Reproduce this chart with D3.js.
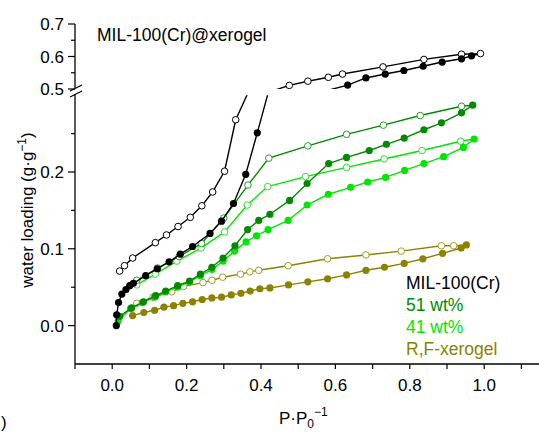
<!DOCTYPE html>
<html>
<head>
<meta charset="utf-8">
<script src="https://cdn.jsdelivr.net/npm/d3@7"></script>
<style>
  body { margin: 0; background: #fff; }
  svg { font-family: "Liberation Sans", Arial, sans-serif; }
</style>
</head>
<body>
<div id="chart"></div>
<script>
// isotherm data, [P/P0, loading g/g]
const milAds = [[0.011,0.000],[0.012,0.014],[0.017,0.030],[0.026,0.041],[0.037,0.047],[0.047,0.052],[0.057,0.055],[0.090,0.065],[0.121,0.074],[0.153,0.083],[0.183,0.093],[0.216,0.103],[0.263,0.120],[0.294,0.136],[0.326,0.159],[0.359,0.197],[0.390,0.251],[0.44,0.34],[0.56,0.49],[0.633,0.512],[0.682,0.534],[0.734,0.546],[0.784,0.557],[0.836,0.570],[0.887,0.583],[0.939,0.593],[0.966,0.602]];
const milDes = [[0.990,0.609],[0.939,0.607],[0.838,0.591],[0.728,0.568],[0.619,0.546],[0.581,0.536],[0.526,0.524],[0.476,0.511],[0.42,0.49],[0.40,0.34],[0.332,0.268],[0.302,0.201],[0.270,0.174],[0.241,0.156],[0.210,0.141],[0.177,0.129],[0.146,0.118],[0.116,0.108],[0.055,0.088],[0.033,0.078],[0.020,0.071]];
const w51Ads = [[0.020,0.012],[0.052,0.023],[0.084,0.031],[0.117,0.039],[0.144,0.045],[0.176,0.052],[0.208,0.058],[0.237,0.067],[0.268,0.076],[0.298,0.088],[0.330,0.104],[0.364,0.125],[0.394,0.137],[0.424,0.145],[0.477,0.163],[0.524,0.185],[0.582,0.211],[0.630,0.219],[0.691,0.228],[0.737,0.236],[0.785,0.244],[0.838,0.255],[0.885,0.264],[0.939,0.277],[0.969,0.287]];
const w51Des = [[0.939,0.2856],[0.828,0.2735],[0.729,0.261],[0.630,0.249],[0.526,0.234],[0.421,0.218],[0.365,0.183],[0.300,0.140],[0.240,0.107],[0.180,0.090],[0.122,0.075],[0.066,0.059]];
const w41Ads = [[0.016,0.006],[0.049,0.022],[0.081,0.030],[0.114,0.037],[0.143,0.044],[0.176,0.050],[0.208,0.057],[0.237,0.065],[0.268,0.073],[0.298,0.084],[0.329,0.097],[0.360,0.109],[0.388,0.117],[0.419,0.125],[0.473,0.137],[0.524,0.157],[0.581,0.171],[0.641,0.180],[0.687,0.187],[0.735,0.193],[0.786,0.202],[0.838,0.211],[0.891,0.220],[0.944,0.232],[0.973,0.243]];
const w41Des = [[0.937,0.240],[0.833,0.228],[0.731,0.217],[0.630,0.206],[0.520,0.194],[0.418,0.181],[0.363,0.157],[0.302,0.122],[0.239,0.101],[0.174,0.084],[0.116,0.067],[0.066,0.053]];
const rfAds = [[0.055,0.013],[0.085,0.017],[0.114,0.020],[0.139,0.024],[0.165,0.026],[0.190,0.029],[0.216,0.031],[0.242,0.034],[0.268,0.036],[0.294,0.037],[0.320,0.040],[0.346,0.042],[0.371,0.045],[0.397,0.048],[0.424,0.049],[0.474,0.053],[0.526,0.057],[0.579,0.061],[0.630,0.066],[0.682,0.072],[0.732,0.076],[0.785,0.081],[0.835,0.087],[0.888,0.094],[0.938,0.101],[0.952,0.105]];
const rfDes = [[0.918,0.104],[0.885,0.104],[0.777,0.097],[0.682,0.092],[0.579,0.087],[0.473,0.078],[0.394,0.072],[0.370,0.070],[0.345,0.067],[0.297,0.063],[0.268,0.059],[0.244,0.056],[0.192,0.051],[0.160,0.044],[0.110,0.037],[0.066,0.029]];

const xTicks = [0.0, 0.2, 0.4, 0.6, 0.8, 1.0];
const yLowTicks = [0.0, 0.1, 0.2];
const yHighTicks = [0.5, 0.6, 0.7];
const legendNames = ["MIL-100(Cr)", "51 wt%", "41 wt%", "R,F-xerogel"];
const legendColors = ["#000000", "#008a00", "#00e600", "#8c8200"];

const width = 539, height = 434;

const svg = d3.select("#chart").append("svg")
    .attr("width", width)
    .attr("height", height);

const x = d3.scaleLinear().domain([-0.1, 1.15]).range([75, 540]);
const yLo = d3.scaleLinear().domain([-0.05, 0.30]).range([364, 95.2]);
const yHi = d3.scaleLinear().domain([0.5, 0.7]).range([89, 24]);

// clip areas for the two panels of the broken axis
const defs = svg.append("defs");
defs.append("clipPath").attr("id", "clipLo").append("rect")
    .attr("x", 75).attr("y", yLo(0.30)).attr("width", 470).attr("height", yLo(-0.05) - yLo(0.30));
defs.append("clipPath").attr("id", "clipHi").append("rect")
    .attr("x", 75).attr("y", 0).attr("width", 470).attr("height", yHi(0.5));

const series = [
    { ads: rfAds, des: rfDes, color: "#8c8200", open: "#a39a2a" },
    { ads: w41Ads, des: w41Des, color: "#00e600", open: "#33dd33" },
    { ads: w51Ads, des: w51Des, color: "#008a00", open: "#2a9a2a" },
    { ads: milAds, des: milDes, color: "#000000", open: "#000000" }
];

const panels = [
    { y: yLo, clip: "url(#clipLo)", lo: -0.05, hi: 0.30 },
    { y: yHi, clip: "url(#clipHi)", lo: 0.5, hi: 0.7 }
];

panels.forEach(p => {
    const g = svg.append("g").attr("clip-path", p.clip);
    const line = d3.line().x(d => x(d[0])).y(d => p.y(d[1]));
    const inside = d => d[1] >= p.lo && d[1] <= p.hi;

    series.forEach(s => {
        // desorption branch starts from the top of the adsorption branch
        const desPath = [s.ads[s.ads.length - 1]].concat(s.des);
        g.append("path").attr("d", line(s.ads))
            .attr("fill", "none").attr("stroke", s.color).attr("stroke-width", 1.4);
        g.append("path").attr("d", line(desPath))
            .attr("fill", "none").attr("stroke", s.color).attr("stroke-width", 1.4);

        g.selectAll(null).data(s.des.filter(inside)).join("circle")
            .attr("cx", d => x(d[0])).attr("cy", d => p.y(d[1])).attr("r", 3.3)
            .attr("fill", "#fff").attr("stroke", s.open).attr("stroke-width", 1);
        g.selectAll(null).data(s.ads.filter(inside)).join("circle")
            .attr("cx", d => x(d[0])).attr("cy", d => p.y(d[1])).attr("r", 3.6)
            .attr("fill", s.color);
    });
});

// x axis
const xAxis = svg.append("g").attr("transform", `translate(0, ${yLo(-0.05)})`);
xAxis.append("line").attr("x1", x(-0.1)).attr("x2", 540).attr("stroke", "#000").attr("stroke-width", 1.3);
xAxis.selectAll(".minor").data(d3.range(-0.1, 1.15, 0.1)).join("line")
    .attr("x1", d => x(d)).attr("x2", d => x(d)).attr("y1", 0).attr("y2", 5)
    .attr("stroke", "#000").attr("stroke-width", 1.2);
xAxis.selectAll("text").data(xTicks).join("text")
    .attr("x", d => x(d)).attr("y", 27)
    .attr("text-anchor", "middle").attr("font-size", 17)
    .text(d => d.toFixed(1));

// y axis, two segments with a break
const ax = x(-0.1);
svg.append("line").attr("x1", ax).attr("x2", ax).attr("y1", yHi(0.7)).attr("y2", 88)
    .attr("stroke", "#000").attr("stroke-width", 1.3);
svg.append("line").attr("x1", ax).attr("x2", ax).attr("y1", 94).attr("y2", yLo(-0.05))
    .attr("stroke", "#000").attr("stroke-width", 1.3);
svg.append("line").attr("x1", ax - 5).attr("x2", ax + 7).attr("y1", 91).attr("y2", 85)
    .attr("stroke", "#000").attr("stroke-width", 1.2);
svg.append("line").attr("x1", ax - 5).attr("x2", ax + 7).attr("y1", 97).attr("y2", 91)
    .attr("stroke", "#000").attr("stroke-width", 1.2);

function yTicks(scale, major, minor) {
    svg.selectAll(null).data(minor).join("line")
        .attr("x1", ax - 4).attr("x2", ax).attr("y1", d => scale(d)).attr("y2", d => scale(d))
        .attr("stroke", "#000").attr("stroke-width", 1.2);
    svg.selectAll(null).data(major).join("line")
        .attr("x1", ax - 7).attr("x2", ax).attr("y1", d => scale(d)).attr("y2", d => scale(d))
        .attr("stroke", "#000").attr("stroke-width", 1.2);
    svg.selectAll(null).data(major).join("text")
        .attr("x", ax - 11).attr("y", d => scale(d) + 6)
        .attr("text-anchor", "end").attr("font-size", 17)
        .text(d => d.toFixed(1));
}
yTicks(yLo, yLowTicks, [0.05, 0.15, 0.25]);
yTicks(yHi, yHighTicks, [0.55, 0.65]);

// axis titles
const yTitle = svg.append("text")
    .attr("transform", "translate(33, 210) rotate(-90)")
    .attr("text-anchor", "middle").attr("font-size", 17);
yTitle.append("tspan").text("water loading (g·g");
yTitle.append("tspan").attr("dy", -7).attr("font-size", 12).text("−1");
yTitle.append("tspan").attr("dy", 7).text(")");

const xTitle = svg.append("text").attr("x", 279).attr("y", 424).attr("font-size", 17);
xTitle.append("tspan").text("P·P");
xTitle.append("tspan").attr("dy", 4).attr("font-size", 12).text("0");
xTitle.append("tspan").attr("dy", -12).attr("font-size", 12).text("−1");

svg.append("text").attr("x", 1).attr("y", 428).attr("font-size", 17).text(")");

svg.append("text").attr("x", 97).attr("y", 41).attr("font-size", 17.5)
    .text("MIL-100(Cr)@xerogel");

// legend
svg.selectAll(".legend").data(legendNames).join("text")
    .attr("class", "legend")
    .attr("x", 406).attr("y", (d, i) => 289 + i * 22)
    .attr("font-size", 17.5)
    .attr("fill", (d, i) => legendColors[i])
    .text(d => d);
</script>
</body>
</html>
